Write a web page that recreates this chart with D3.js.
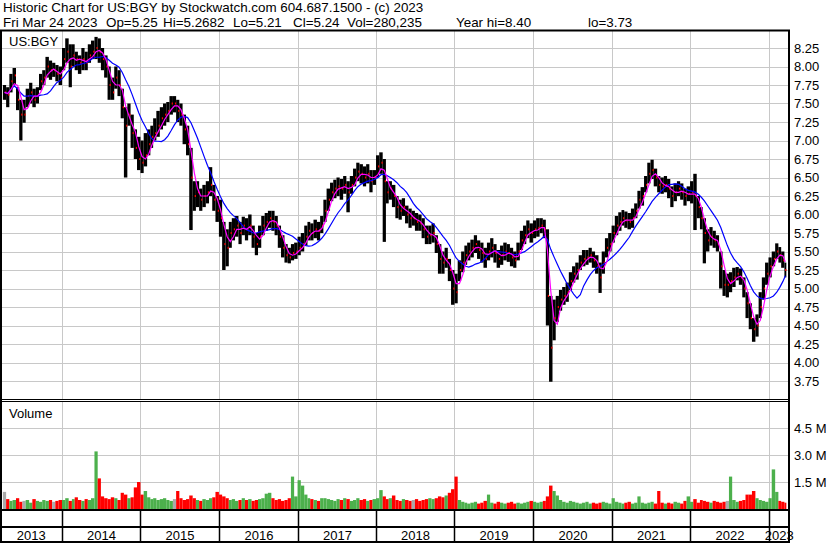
<!DOCTYPE html>
<html>
<head>
<meta charset="utf-8">
<script src="https://cdn.jsdelivr.net/npm/d3@7"></script>
<style>
body { margin: 0; background: #fff; }
svg { display: block; font-family: Arial, "Liberation Sans", sans-serif; }
</style>
</head>
<body>
<svg id="svg" width="830" height="543"></svg>
<script>
// half-month buckets, Apr 2013 .. Mar 2023
var closes = [
  7.65,7.62,7.8,7.88,7.55,7.35,7.35,7.6,7.65,7.55,7.6,7.8,7.85,8.0,7.95,7.95,7.9,7.85,
  8.1,8.2,8.0,8.15,8.1,8.05,8.1,8.05,8.15,8.2,8.25,8.2,8.1,8.0,7.75,7.65,7.85,7.75,7.45,7.2,7.35,7.1,6.9,6.75,
  6.7,6.8,6.95,7.05,7.1,7.2,7.3,7.35,7.4,7.5,7.5,7.4,7.35,7.15,6.95,6.5,6.25,6.3,6.2,6.25,6.3,6.4,6.2,6.05,
  5.95,5.6,5.55,5.75,5.8,5.85,5.75,5.85,5.8,5.85,5.7,5.6,5.7,5.85,5.9,5.95,5.9,5.85,5.7,5.55,5.45,5.42,5.48,5.5,
  5.55,5.6,5.7,5.78,5.75,5.8,5.78,5.85,6.05,6.2,6.3,6.35,6.38,6.35,6.4,6.3,6.4,6.5,6.58,6.55,6.5,6.55,6.45,6.5,
  6.65,6.7,6.45,6.3,6.35,6.25,6.1,6.05,6.1,6.0,5.95,5.95,5.9,5.88,5.8,5.7,5.72,5.75,5.6,5.4,5.35,5.4,5.25,5.0,
  4.95,5.25,5.35,5.45,5.5,5.55,5.6,5.52,5.48,5.4,5.5,5.55,5.48,5.4,5.45,5.5,5.48,5.42,5.38,5.5,5.65,5.72,5.8,5.75,
  5.8,5.82,5.85,5.8,4.9,4.2,4.6,4.75,4.85,4.9,4.95,5.1,5.2,5.25,5.35,5.4,5.42,5.45,5.38,5.3,5.15,5.35,5.55,5.6,
  5.75,5.85,5.9,5.95,5.92,5.9,5.95,6.05,6.2,6.25,6.4,6.55,6.6,6.5,6.4,6.38,6.4,6.35,6.25,6.3,6.35,6.3,6.25,6.28,
  6.3,6.25,6.1,5.95,5.75,5.65,5.7,5.65,5.6,5.3,5.05,5.05,5.1,5.15,5.2,5.15,5.0,4.8,4.6,4.45,4.5,4.75,5.0,5.2,
  5.3,5.4,5.5,5.45,5.38,5.25
];
var highs = [
  7.75,7.72,7.9,7.98,7.72,7.55,7.55,7.7,7.78,7.7,7.72,7.9,7.95,8.13,8.08,8.05,8.02,8.0,
  8.25,8.38,8.3,8.3,8.2,8.15,8.25,8.2,8.3,8.35,8.4,8.38,8.25,8.15,8.0,7.85,8.0,7.95,7.7,7.45,7.5,7.35,7.15,7.05,
  7.0,7.1,7.15,7.2,7.3,7.4,7.45,7.5,7.52,7.6,7.6,7.55,7.5,7.35,7.2,6.9,6.45,6.45,6.35,6.4,6.45,6.64,6.4,6.25,
  6.2,5.9,5.8,5.9,5.95,5.98,5.9,5.97,5.95,6.0,5.85,5.75,5.85,5.98,6.02,6.05,6.05,5.98,5.85,5.72,5.6,5.55,5.6,5.62,
  5.7,5.75,5.85,5.9,5.88,5.93,5.9,5.98,6.2,6.35,6.43,6.47,6.5,6.48,6.52,6.45,6.52,6.62,6.7,6.68,6.65,6.68,6.6,6.6,
  6.8,6.84,6.75,6.45,6.45,6.4,6.25,6.2,6.22,6.12,6.08,6.05,6.02,6.0,5.95,5.85,5.85,5.88,5.72,5.6,5.5,5.55,5.4,5.25,
  5.2,5.38,5.5,5.58,5.62,5.66,5.72,5.65,5.62,5.55,5.62,5.68,5.6,5.52,5.58,5.62,5.6,5.55,5.5,5.62,5.78,5.85,5.92,5.88,
  5.92,5.95,5.95,5.93,5.8,4.9,4.85,4.9,4.98,5.02,5.08,5.22,5.3,5.35,5.45,5.52,5.52,5.55,5.5,5.45,5.35,5.5,5.68,5.75,
  5.85,5.98,6.03,6.06,6.04,6.02,6.08,6.15,6.32,6.37,6.52,6.7,6.74,6.62,6.52,6.5,6.52,6.48,6.38,6.42,6.45,6.42,6.35,6.38,
  6.45,6.55,6.25,6.1,5.95,5.8,5.83,5.78,5.72,5.5,5.25,5.2,5.22,5.28,5.29,5.27,5.15,4.95,4.8,4.6,4.65,4.95,5.15,5.35,
  5.42,5.5,5.61,5.56,5.5,5.35
];
var lows = [
  7.55,7.45,7.65,7.75,7.41,7.0,7.24,7.45,7.5,7.45,7.5,7.68,7.75,7.85,7.82,7.86,7.8,7.75,
  7.95,8.05,7.72,8.0,7.95,7.9,7.95,7.95,8.05,8.1,8.1,8.05,7.95,7.85,7.55,7.55,7.7,7.6,7.3,6.5,7.2,6.9,6.75,6.6,
  6.56,6.65,6.8,6.9,7.0,7.05,7.15,7.2,7.25,7.35,7.38,7.25,7.2,6.95,6.8,5.79,6.05,6.1,6.05,6.1,6.15,6.25,6.05,5.9,
  5.7,5.25,5.3,5.55,5.65,5.7,5.6,5.72,5.65,5.72,5.55,5.45,5.55,5.72,5.78,5.82,5.78,5.72,5.55,5.42,5.35,5.34,5.38,5.4,
  5.45,5.5,5.58,5.65,5.65,5.68,5.65,5.75,5.9,6.05,6.18,6.22,6.25,6.2,6.28,6.03,6.28,6.38,6.45,6.42,6.38,6.42,6.3,6.4,
  6.5,6.55,5.63,6.15,6.2,6.1,5.95,5.93,5.98,5.88,5.82,5.85,5.78,5.78,5.68,5.6,5.6,5.62,5.48,5.2,5.2,5.28,5.1,4.78,
  4.8,5.1,5.22,5.32,5.38,5.42,5.48,5.4,5.35,5.28,5.38,5.42,5.35,5.28,5.32,5.38,5.36,5.3,5.28,5.38,5.52,5.6,5.68,5.62,
  5.68,5.7,5.75,5.68,4.5,3.74,4.3,4.55,4.7,4.78,4.82,4.98,5.08,5.12,5.25,5.3,5.32,5.35,5.28,5.2,4.94,5.2,5.42,5.5,
  5.62,5.72,5.78,5.85,5.82,5.8,5.82,5.95,6.08,6.12,6.3,6.42,6.48,6.38,6.3,6.28,6.3,6.22,6.1,6.18,6.25,6.2,6.12,6.18,
  6.15,5.79,5.95,5.8,5.34,5.5,5.58,5.55,5.5,5.0,4.9,4.88,4.95,5.02,5.11,5.05,4.88,4.6,4.45,4.28,4.35,4.6,4.85,5.05,
  5.15,5.3,5.4,5.35,5.28,5.15
];
// volume in millions
var volumes = [
  0.95,0.55,0.45,0.5,0.6,0.4,0.45,0.5,0.35,0.55,0.45,0.4,0.5,0.45,0.5,0.4,0.45,0.5,
  0.5,0.6,0.45,0.55,0.65,0.5,0.45,0.55,0.5,0.6,3.2,1.7,0.7,0.6,0.55,0.65,0.6,0.5,0.9,0.8,0.6,0.65,1.2,1.5,
  0.8,1.0,0.65,0.55,0.6,0.5,0.55,0.6,0.5,0.45,0.55,1.0,0.6,0.5,0.55,0.75,0.6,0.5,0.45,0.55,0.5,0.6,0.65,0.95,
  0.8,0.7,0.6,0.5,0.55,0.45,0.5,0.6,0.5,0.55,0.45,0.5,0.55,0.6,0.85,0.9,0.6,0.5,0.55,0.45,0.5,0.6,1.8,0.7,
  1.6,1.3,0.8,0.6,0.55,0.5,0.45,0.6,0.6,0.55,0.5,0.45,0.55,0.5,0.6,0.55,0.45,0.5,0.6,0.5,0.55,0.45,0.5,0.55,
  0.6,1.05,0.7,0.55,0.6,0.75,0.5,0.45,0.55,0.5,0.45,0.5,0.55,0.45,0.5,0.55,0.6,0.55,0.6,0.7,0.65,0.75,0.9,1.1,
  1.8,0.5,0.4,0.35,0.3,0.35,0.4,0.3,0.35,0.45,0.8,0.35,0.3,0.4,0.35,0.3,0.35,0.4,0.3,0.35,0.3,0.35,0.4,0.45,
  0.4,0.35,0.4,0.45,0.7,1.3,1.0,0.75,0.5,0.4,0.35,0.45,0.4,0.35,0.3,0.35,0.4,0.3,0.35,0.3,0.35,0.4,0.35,0.3,
  0.6,0.4,0.35,0.3,0.35,0.4,0.3,0.35,0.7,0.35,0.3,0.35,0.4,0.3,1.0,0.35,0.3,0.35,0.3,0.4,0.35,0.3,0.45,0.7,
  0.4,0.55,0.35,0.5,0.45,0.4,0.35,0.45,0.4,0.35,0.4,0.45,1.8,0.5,0.4,0.45,0.5,0.8,0.8,1.0,0.6,0.5,0.45,0.4,
  0.6,2.2,0.95,0.45,0.4,0.35
];
var years = ["2013","2014","2015","2016","2017","2018","2019","2020","2021","2022","2023"];
var priceTicks = [3.75,4.00,4.25,4.50,4.75,5.00,5.25,5.50,5.75,6.00,6.25,6.50,6.75,7.00,7.25,7.50,7.75,8.00,8.25];
var volTicks = [1.5, 3.0, 4.5];
var quoteItems = ["Fri Mar 24 2023", "Op=5.25", "Hi=5.2682", "Lo=5.21", "Cl=5.24", "Vol=280,235", "Year hi=8.40", "lo=3.73"];
var quoteX = [3, 106, 163, 233, 293, 347, 456, 588];

var svg = d3.select("#svg");
var dates = closes.map(function(d, i) { return new Date(2013, 3 + Math.floor(i / 2), i % 2 ? 16 : 1); });
var endDate = new Date(2023, 2, 25);

var x = d3.scaleTime().domain([new Date(2014, 0, 1), new Date(2023, 0, 1)]).range([62, 768.5]);
var y = d3.scaleLinear().domain([3.75, 8.25]).range([381, 48]);
var yv = d3.scaleLinear().domain([0, 4.5]).range([509, 428]);

function x0(i) { return x(dates[i]); }
function x1(i) { return i + 1 < dates.length ? x(dates[i + 1]) : x(endDate); }

var grid = svg.append("g").attr("stroke", "#c8c8c8").attr("stroke-width", 1);
var yearX = years.slice(1).map(function(yr) { return Math.round(x(new Date(+yr, 0, 1))) + 0.5; });

// price grid
grid.selectAll(".hp").data(priceTicks).enter().append("line")
  .attr("x1", 2).attr("x2", 788)
  .attr("y1", function(d) { return Math.round(y(d)) + 0.5; })
  .attr("y2", function(d) { return Math.round(y(d)) + 0.5; });
grid.selectAll(".vp").data(yearX).enter().append("line")
  .attr("x1", function(d) { return d; }).attr("x2", function(d) { return d; })
  .attr("y1", 31).attr("y2", 399);
// volume grid
grid.selectAll(".hv").data(volTicks).enter().append("line")
  .attr("x1", 2).attr("x2", 788)
  .attr("y1", function(d) { return Math.round(yv(d)) + 0.5; })
  .attr("y2", function(d) { return Math.round(yv(d)) + 0.5; });
grid.selectAll(".vv").data(yearX).enter().append("line")
  .attr("x1", function(d) { return d; }).attr("x2", function(d) { return d; })
  .attr("y1", 402).attr("y2", 509);

// price bars
svg.append("g").selectAll("rect").data(closes).enter().append("rect")
  .attr("x", function(d, i) { return x0(i); })
  .attr("width", function(d, i) { return Math.max(1, x1(i) - x0(i)); })
  .attr("y", function(d, i) { return y(highs[i]); })
  .attr("height", function(d, i) { return y(lows[i]) - y(highs[i]); })
  .attr("fill", "#000");
// red close ticks
svg.append("g").selectAll("rect").data(closes).enter().append("rect")
  .attr("x", function(d, i) { return x1(i) - 1.2; })
  .attr("width", 1.2)
  .attr("y", function(d) { return y(d) - 1; })
  .attr("height", 2)
  .attr("fill", "#ff0000");

function sma(arr, n) {
  return arr.map(function(d, i) {
    return d3.mean(arr.slice(Math.max(0, i - n + 1), i + 1));
  });
}
var maShort = sma(closes, 3);
var maLong = sma(closes, 10);
var line = d3.line()
  .x(function(d, i) { return (x0(i) + x1(i)) / 2; })
  .y(function(d) { return y(d); });
svg.append("path").datum(maLong).attr("d", line)
  .attr("fill", "none").attr("stroke", "#0000ff").attr("stroke-width", 1.2);
svg.append("path").datum(maShort).attr("d", line)
  .attr("fill", "none").attr("stroke", "#ff00ff").attr("stroke-width", 1.2);

// volume bars
svg.append("g").selectAll("rect").data(volumes).enter().append("rect")
  .attr("x", function(d, i) { return x0(i); })
  .attr("width", function(d, i) { return Math.max(1, x1(i) - x0(i)); })
  .attr("y", function(d) { return yv(d); })
  .attr("height", function(d) { return yv(0) - yv(d); })
  .attr("fill", function(d, i) {
    if (i === 0 || closes[i] === closes[i - 1]) return "#aaaaaa";
    return closes[i] > closes[i - 1] ? "#4cb04c" : "#ff0000";
  });

// frame
var frame = svg.append("g").attr("stroke", "#000").attr("fill", "none");
frame.append("line").attr("x1", 0).attr("x2", 790).attr("y1", 30.5).attr("y2", 30.5).attr("stroke-width", 2);
frame.append("line").attr("x1", 1).attr("x2", 1).attr("y1", 30).attr("y2", 543).attr("stroke-width", 2);
frame.append("line").attr("x1", 789).attr("x2", 789).attr("y1", 30).attr("y2", 543).attr("stroke-width", 2);
frame.append("line").attr("x1", 0).attr("x2", 790).attr("y1", 399.5).attr("y2", 399.5).attr("stroke-width", 1);
frame.append("line").attr("x1", 0).attr("x2", 790).attr("y1", 401.5).attr("y2", 401.5).attr("stroke-width", 1);
frame.append("line").attr("x1", 0).attr("x2", 790).attr("y1", 510).attr("y2", 510).attr("stroke-width", 2);
frame.append("line").attr("x1", 0).attr("x2", 790).attr("y1", 527).attr("y2", 527).attr("stroke-width", 2);
frame.append("line").attr("x1", 0).attr("x2", 790).attr("y1", 542).attr("y2", 542).attr("stroke-width", 2);
frame.selectAll(".ys").data(yearX).enter().append("line")
  .attr("x1", function(d) { return d; }).attr("x2", function(d) { return d; })
  .attr("y1", 510).attr("y2", 543).attr("stroke-width", 1.5);

// year labels
var bounds = [0].concat(yearX, [789]);
svg.append("g").selectAll("text").data(years).enter().append("text")
  .attr("x", function(d, i) { return (bounds[i] + bounds[i + 1]) / 2; })
  .attr("y", 540)
  .attr("text-anchor", "middle")
  .attr("font-size", 13)
  .attr("fill", "#000")
  .text(function(d) { return d; });

// axis labels
svg.append("g").selectAll("text").data(priceTicks).enter().append("text")
  .attr("x", 794).attr("y", function(d) { return y(d); })
  .attr("dy", "0.36em").attr("font-size", 13).attr("fill", "#000")
  .text(function(d) { return d.toFixed(2); });
svg.append("g").selectAll("text").data(volTicks).enter().append("text")
  .attr("x", 794).attr("y", function(d) { return yv(d); })
  .attr("dy", "0.36em").attr("font-size", 13).attr("fill", "#000")
  .text(function(d) { return d.toFixed(1) + " M"; });

svg.append("text").attr("x", 9).attr("y", 46).attr("font-size", 13).text("US:BGY");
svg.append("text").attr("x", 9).attr("y", 418).attr("font-size", 13).text("Volume");

// title
svg.append("text").attr("x", 3).attr("y", 11.5).attr("font-size", 13.4)
  .text("Historic Chart for US:BGY by Stockwatch.com 604.687.1500 - (c) 2023");
svg.append("g").selectAll("text").data(quoteItems).enter().append("text")
  .attr("x", function(d, i) { return quoteX[i]; })
  .attr("y", 26.5).attr("font-size", 13.4)
  .text(function(d) { return d; });
</script>
</body>
</html>
